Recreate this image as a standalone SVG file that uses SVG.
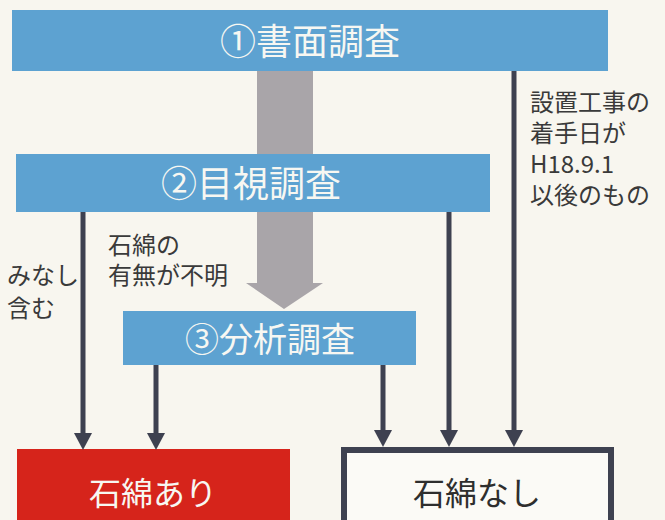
<svg xmlns="http://www.w3.org/2000/svg" width="665" height="520" viewBox="0 0 665 520">
<style>
.blue{fill:#5da2d1}
.t{font-family:"Noto Sans CJK JP","Noto Sans",sans-serif}
.wt{fill:#f7f7f2;text-anchor:middle}
.lbl{fill:#3a3a3a;font-size:24px}
.conn line{stroke:#3e4150;stroke-width:5;marker-end:url(#ah)}
</style>
<defs>
<marker id="ah" markerUnits="userSpaceOnUse" markerWidth="20" markerHeight="20" refX="0" refY="9" orient="auto">
<path d="M0,0 L17,9 L0,18 z" fill="#3e4150"/>
</marker>
</defs>
<rect width="665" height="520" fill="#f8f6ef"/>
<g id="main-flow">
<path d="M257,70 H313 V283 H323 L284,309 L246,283 H257 Z" fill="#a9a5a9"/>
</g>
<g id="n1">
<rect class="blue" x="12" y="10" width="596" height="61"/>
<text class="t wt" x="310" y="55" font-size="36">①書面調査</text>
</g>
<g id="n2">
<rect class="blue" x="16" y="154" width="474" height="58"/>
<text class="t wt" x="251" y="197" font-size="36">②目視調査</text>
</g>
<g id="n3">
<rect class="blue" x="123" y="311" width="293" height="54"/>
<text class="t wt" x="270" y="352" font-size="34">③分析調査</text>
</g>
<g id="n4">
<rect x="17" y="449" width="273" height="80" fill="#d6241b"/>
<text class="t wt" x="153" y="505" font-size="32">石綿あり</text>
</g>
<g id="n5">
<rect x="344" y="450" width="267" height="80" fill="#fbfaf6" stroke="#3e4150" stroke-width="6"/>
<text class="t" x="477" y="505" font-size="32" fill="#2e2e2e" text-anchor="middle">石綿なし</text>
</g>
<g class="conn" id="connectors">
<line x1="83" y1="212" x2="83" y2="433"/>
<line x1="156" y1="365" x2="156" y2="433"/>
<line x1="383" y1="365" x2="383" y2="430"/>
<line x1="449" y1="212" x2="449" y2="430"/>
<line x1="514" y1="71" x2="514" y2="430"/>
</g>
<g id="labels">
<text class="t lbl" x="530" y="111" font-size="25">設置工事の</text>
<text class="t lbl" x="530" y="142" font-size="25">着手日が</text>
<text class="t lbl" x="530" y="173" font-size="25">H18.9.1</text>
<text class="t lbl" x="530" y="204" font-size="25">以後のもの</text>
<text class="t lbl" x="108" y="254">石綿の</text>
<text class="t lbl" x="108" y="284">有無が不明</text>
<text class="t lbl" x="7" y="284">みなし</text>
<text class="t lbl" x="7" y="317">含む</text>
</g>
</svg>
